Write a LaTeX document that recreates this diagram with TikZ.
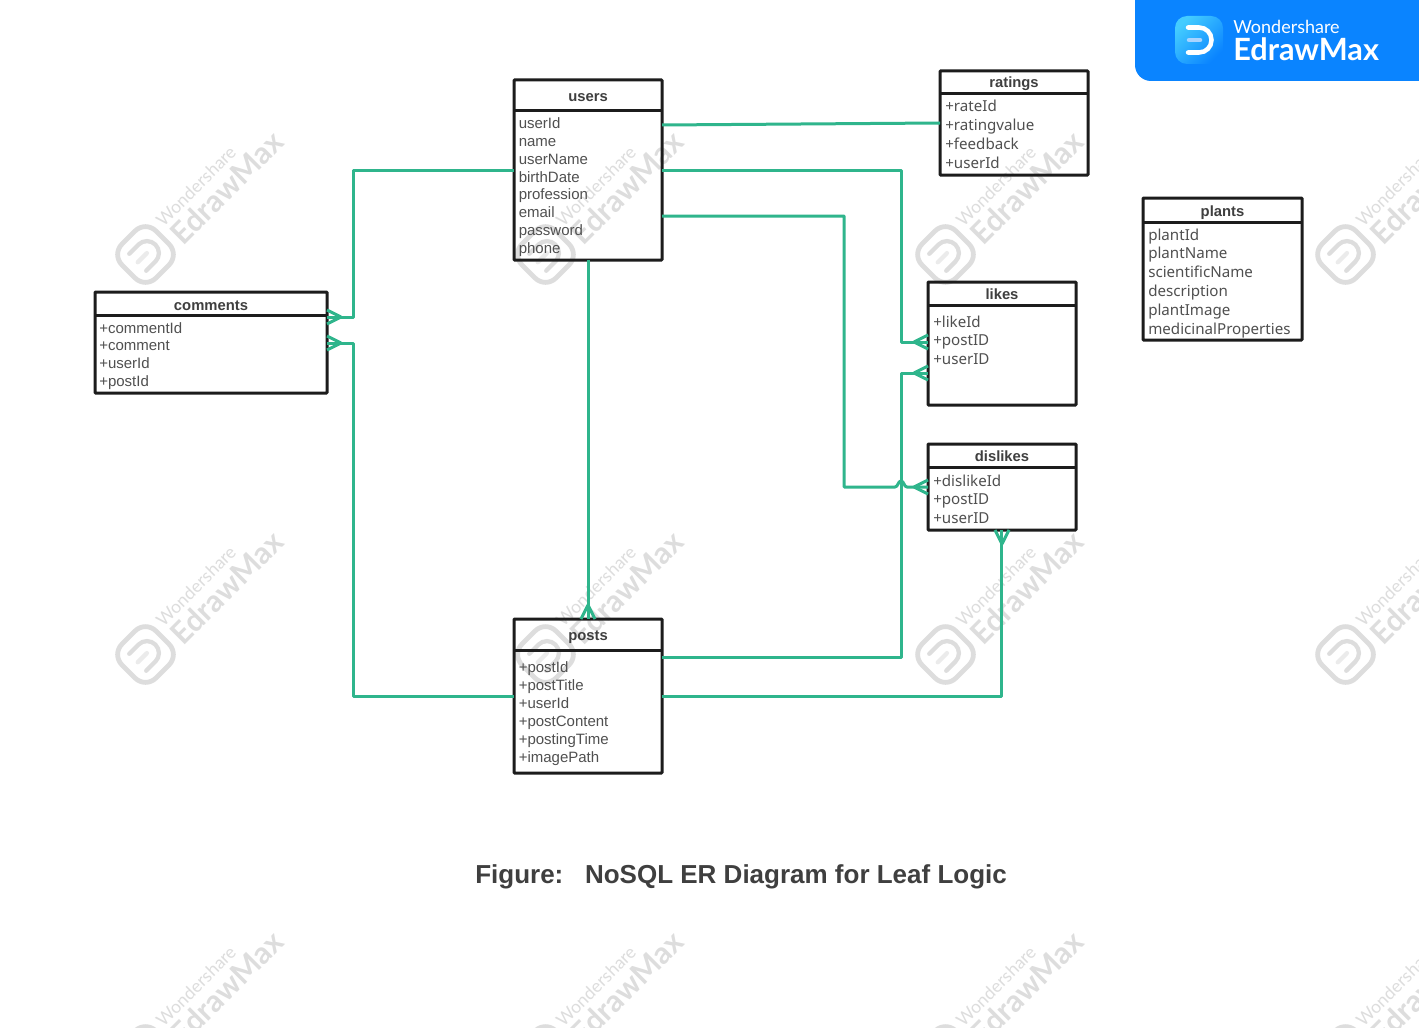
\documentclass[tikz,border=0pt]{standalone}
\usepackage{fontspec}
\setmainfont{Liberation Sans}
\newfontfamily\uifont{Noto Sans}
\newfontfamily\brandfont{Lato}
\usetikzlibrary{calc}
\definecolor{linkgreen}{HTML}{2FB58C}
\definecolor{boxblack}{HTML}{1C1C1C}
\definecolor{bodytext}{HTML}{505050}
\definecolor{headtext}{HTML}{3F3F3F}
\definecolor{markgray}{HTML}{DDDDDD}
\definecolor{brandblue}{HTML}{0A84FF}
\def\pxu{0.75pt}
\tikzset{
  link/.style={draw=linkgreen,line width=2.25pt,line join=round},
  entitybox/.style={draw=boxblack,line width=2.25pt,rounded corners=0.6pt,inner sep=0pt,outer sep=0pt,anchor=north west},
  divider/.style={draw=boxblack,line width=2.25pt},
  arialtitle/.style={font=\fontsize{11.1pt}{12pt}\bfseries,text=headtext,inner sep=0pt,yshift=-1.8pt},
  uititle/.style={font=\fontsize{11.1pt}{12pt}\bfseries,text=headtext,inner sep=0pt,yshift=-0.8pt},
  arialbody/.style={font=\fontsize{11.25pt}{12pt}\selectfont,text=bodytext,inner sep=0pt,anchor=base west},
  uibody/.style={font=\uifont\fontsize{11.35pt}{12pt}\selectfont,text=bodytext,inner sep=0pt,anchor=base west},
  crow/.pic={\draw[link] (-14,0) -- (0,7) (-14,0) -- (0,-7);},
  watermark/.pic={
    \begin{scope}[rotate=45]
      \draw[markgray,line width=3.6pt,rounded corners=11pt] (-24,-24) rectangle (24,24);
      \draw[markgray,line width=3.2pt,line cap=round] (-11,-12) -- (2,-12) .. controls (8.6,-12) and (14,-6.6) .. (14,0) .. controls (14,6.6) and (8.6,12) .. (2,12) -- (-11,12);
      \draw[markgray!60,line width=3.2pt,line cap=round] (-11,0) -- (2,0);
    \end{scope}
    \node[rotate=45,anchor=base west,text=markgray,font=\brandfont\fontsize{13.2pt}{14pt}\selectfont,inner sep=0pt] at (18,-27) {Wondershare};
    \node[rotate=45,anchor=base west,text=markgray,font=\brandfont\fontsize{22.8pt}{25pt}\bfseries,inner sep=0pt] at (38,-8) {EdrawMax};
  }
}
\newcommand\entity[8]{%
  \node[entitybox,minimum width={(#4-#2)*\pxu},minimum height={(#5-#3)*\pxu}] (#1) at (#2,#3) {};
  \draw[divider] (#2,#6) .. controls +(10,0) and +(-10,0) .. (#4,#6);
  \node[#7] (#1-title) at ({(#2+#4)/2},{(#3+#6)/2}) {#8};
}
\newcommand\entitylines[6]{%
  \foreach \t [count=\i] in {#6} {
    \node[#2] (#1-\i) at (#3,{#4+(\i-1)*#5}) {\t};
  }
}
\begin{document}
\begin{tikzpicture}[x=\pxu,y=-\pxu]
\useasboundingbox (0,0) rectangle (1419,1027);
\fill[white] (0,0) rectangle (1419,1027);
\begin{scope}
  \clip (0,0) rectangle (1419,1027);
  \foreach \wx in {0,400,800,1200} \foreach \wy in {0,400,800}
    \pic at ({145.5+\wx},{254.5+\wy}) {watermark};
\end{scope}
\begin{scope}
\clip (0,0) rectangle (1419,1027);
\fill[brandblue,rounded corners=12pt] (1135,-20) rectangle (1460,81);
\end{scope}
\node[inner sep=0pt,minimum size={48*\pxu},rounded corners=9pt,top color=brandblue!55!cyan!75!white,bottom color=brandblue,shading angle=45] (brandicon) at (1199,40) {};
\draw[white,line width=3.4pt,line cap=round] (1188,27.5) -- (1199,27.5) .. controls (1206,27.5) and (1211.5,33) .. (1211.5,40) .. controls (1211.5,47) and (1206,52.5) .. (1199,52.5) -- (1188,52.5);
\draw[white!65!brandblue,line width=3.4pt,line cap=round] (1189,40) -- (1200,40);
\node[anchor=base west,text=white,inner sep=0pt,font=\brandfont\fontsize{13.5pt}{14pt}\selectfont] (brandtop) at (1233,33.5) {Wondershare};
\node[anchor=base west,text=white,inner sep=0pt,font=\brandfont\fontsize{23pt}{24pt}\bfseries] (brandname) at (1233,61) {EdrawMax};
\entity{users}{514}{80}{662}{260}{111}{arialtitle}{users}
\entitylines{users}{arialbody}{518.5}{128.3}{17.9}{userId,name,userName,birthDate,profession,email,password,phone}
\entity{ratings}{940}{71}{1088}{175}{94}{uititle}{ratings}
\entitylines{ratings}{uibody}{945}{111.5}{18.9}{+rateId,+ratingvalue,+feedback,+userId}
\entity{plants}{1143}{198}{1302}{340}{222}{uititle,yshift=-1.4pt}{plants}
\entitylines{plants}{uibody}{1148}{240}{18.8}{plantId,plantName,scientificName,description,plantImage,medicinalProperties}
\entity{likes}{928}{282}{1076}{405}{305}{uititle}{likes}
\entitylines{likes}{uibody}{933}{327}{18.5}{+likeId,+postID,+userID}
\entity{dislikes}{928}{444}{1076}{530}{467}{uititle}{dislikes}
\entitylines{dislikes}{uibody}{933}{486}{18.5}{+dislikeId,+postID,+userID}
\entity{comments}{95}{292}{327}{393}{315}{arialtitle}{comments}
\entitylines{comments}{arialbody}{99}{333}{17.9}{+commentId,+comment,+userId,+postId}
\entity{posts}{514}{619}{662}{773}{650}{arialtitle}{posts}
\entitylines{posts}{arialbody}{518.5}{672}{18}{+postId,+postTitle,+userId,+postContent,+postingTime,+imagePath}
\draw[link] (users.east |- 0,125) -- (ratings.west |- 0,123);
\draw[link] (users.east |- 0,170) -- (901,170) -- (901,342) .. controls +(9,0) and +(-9,0) .. (likes.west |- 0,342);
\draw[link] (users.east |- 0,216) -- (844,216) -- (844,487) -- (895,487) .. controls (898,487) and (898,481) .. (901,481) .. controls (904,481) and (904,487) .. (907,487) -- (dislikes.west |- 0,487);
\draw[link] (users.west |- 0,170) -- (353,170) -- (353,317) .. controls +(-9,0) and +(9,0) .. (comments.east |- 0,317);
\draw[link] (posts.west |- 0,696) -- (353,696) -- (353,343) .. controls +(-9,0) and +(9,0) .. (comments.east |- 0,343);
\draw[link] (users.south) .. controls +(0,100) and +(0,-100) .. (posts.north);
\draw[link] (posts.east |- 0,657) -- (901,657) -- (901,373) .. controls +(9,0) and +(-9,0) .. (likes.west |- 0,373);
\draw[link] (posts.east |- 0,696) -- (1001,696) .. controls +(0,-50) and +(0,50) .. (1001,530);
\pic at (likes.west |- 0,342) {crow};
\pic at (likes.west |- 0,373) {crow};
\pic at (dislikes.west |- 0,487) {crow};
\pic[rotate=180] at (comments.east |- 0,317) {crow};
\pic[rotate=180] at (comments.east |- 0,343) {crow};
\pic[rotate=-90] at (posts.north) {crow};
\pic[rotate=90] at (dislikes.south) {crow};
\node[anchor=base west,inner sep=0pt,text=headtext,font=\fontsize{19.5pt}{22pt}\bfseries] (caption) at (475,883) {Figure:\ \ \ NoSQL ER Diagram for Leaf Logic};
\end{tikzpicture}
\end{document}
